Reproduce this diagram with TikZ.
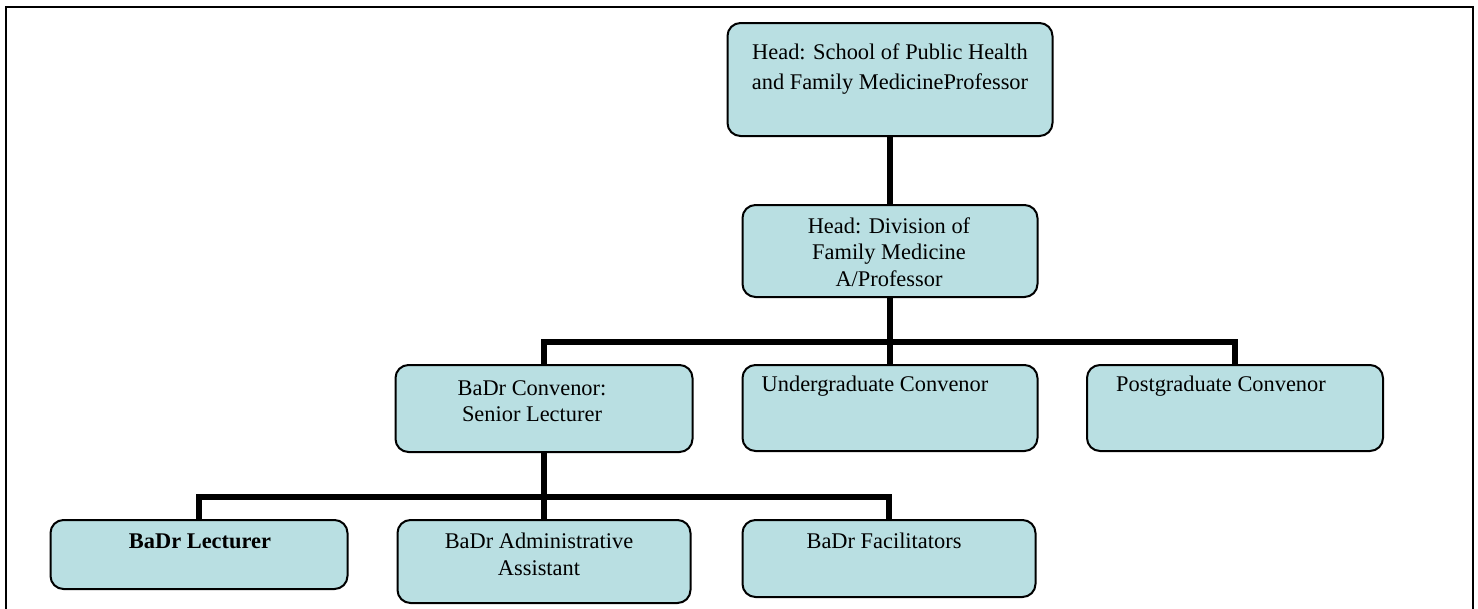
\documentclass[tikz,border=0pt]{standalone}
\usepackage{fontspec}
\setmainfont{Liberation Serif}
\definecolor{boxfill}{RGB}{185,223,226}
\begin{document}
\begin{tikzpicture}[x=1pt,y=-1pt,
  box/.style={draw=black,line width=2pt,fill=boxfill,rounded corners=13pt,
    minimum width=#1,inner sep=0pt},
  txt/.style={inner sep=0pt,align=center,font=\fontsize{22.4}{27}\selectfont},
  conn/.style={line width=6pt,line join=miter,line cap=butt}]
\useasboundingbox (0,0) rectangle (1478,608);
\begin{scope}
\clip (0,0) rectangle (1478,608);
\draw[line width=1.5pt] (6,7) rectangle (1473,640);
\end{scope}
% boxes
\node[box=325pt,minimum height=113pt] (top) at (890,79.5) {};
\node[box=295pt,minimum height=92pt] (div) at (890,251) {};
\node[box=297pt,minimum height=87pt] (conv) at (544,408.5) {};
\node[box=295pt,minimum height=86pt] (ug) at (890,408) {};
\node[box=296pt,minimum height=86pt] (pg) at (1235,408) {};
\node[box=297pt,minimum height=69pt] (lect) at (199,554.5) {};
\node[box=293pt,minimum height=83pt] (admin) at (544,561.5) {};
\node[box=293pt,minimum height=77pt] (fac) at (889,558.5) {};
% connectors
\coordinate (j1) at (890,342);
\coordinate (j2) at (544,497);
\draw[conn] (top.south) -- (div.north);
\draw[conn] (div.south) -- (j1);
\draw[conn] (j1) -- (ug.north);
\draw[conn] (conv.north) -- (conv.north |- j1) -- (pg.north |- j1) -- (pg.north);
\draw[conn] (conv.south) -- (j2);
\draw[conn] (j2) -- (admin.north);
\draw[conn] (lect.north) -- (lect.north |- j2) -- (fac.north |- j2) -- (fac.north);
% texts
\node[txt,font=\fontsize{22.4}{30}\selectfont] (topT) at (890,69) {Head: School of Public Health\\and Family MedicineProfessor};
\node[txt,font=\fontsize{22.4}{26.5}\selectfont] (divT) at (889,252) {Head: Division of\\Family Medicine\\A/Professor};
\node[txt,font=\fontsize{22.4}{25.5}\selectfont] (convT) at (532,401) {BaDr Convenor:\\Senior Lecturer};
\node[txt] (ugT) at (875,386) {Undergraduate Convenor};
\node[txt] (pgT) at (1221,386) {Postgraduate Convenor};
\node[txt,font=\fontsize{22.4}{27}\selectfont\bfseries] (lectT) at (200,541) {BaDr Lecturer};
\node[txt] (adminT) at (539,554) {BaDr Administrative\\Assistant};
\node[txt] (facT) at (884,541) {BaDr Facilitators};
\end{tikzpicture}
\end{document}
